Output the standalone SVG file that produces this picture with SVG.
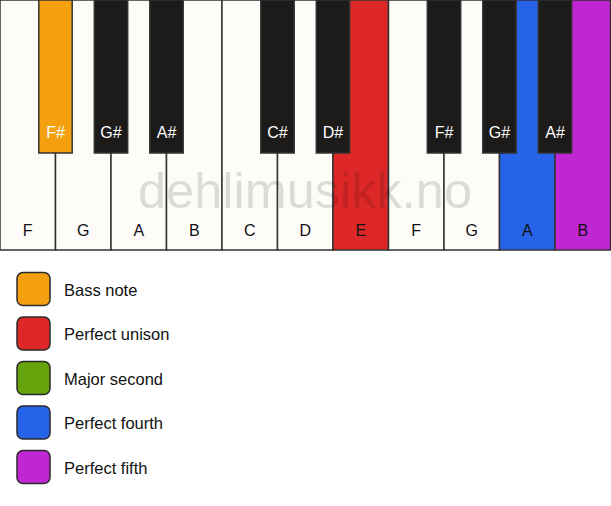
<svg xmlns="http://www.w3.org/2000/svg" width="611" height="506" viewBox="0 0 611 506">
<style>
.w{fill:#fdfcf9;stroke:#333;stroke-width:1.5}
.b{fill:#1c1b1a;stroke:#333;stroke-width:1.5}
.lw{font-family:"Liberation Sans",Arial,sans-serif;font-size:16px;fill:#111;text-anchor:middle}
.lb{font-family:"Liberation Sans",Arial,sans-serif;font-size:16px;fill:#fff;text-anchor:middle}
.lg{font-family:"Liberation Sans",Arial,sans-serif;font-size:16.5px;fill:#111}
.sw{stroke:#2a2a2a;stroke-width:1.5}
</style>
<rect width="611" height="506" fill="#fff"/>
<g id="white-keys">
<g id="key-F1"><rect class="w" x="0" y="0" width="55.5" height="250"/><text class="lw" x="27.75" y="236">F</text></g>
<g id="key-G1"><rect class="w" x="55.5" y="0" width="55.5" height="250"/><text class="lw" x="83.25" y="236">G</text></g>
<g id="key-A1"><rect class="w" x="111" y="0" width="55.5" height="250"/><text class="lw" x="138.75" y="236">A</text></g>
<g id="key-B1"><rect class="w" x="166.5" y="0" width="55.5" height="250"/><text class="lw" x="194.25" y="236">B</text></g>
<g id="key-C"><rect class="w" x="222" y="0" width="55.5" height="250"/><text class="lw" x="249.75" y="236">C</text></g>
<g id="key-D"><rect class="w" x="277.5" y="0" width="55.5" height="250"/><text class="lw" x="305.25" y="236">D</text></g>
<g id="key-E"><rect class="w" style="fill:#de2828" x="333" y="0" width="55.5" height="250"/><text class="lw" x="360.75" y="236">E</text></g>
<g id="key-F2"><rect class="w" x="388.5" y="0" width="55.5" height="250"/><text class="lw" x="416.25" y="236">F</text></g>
<g id="key-G2"><rect class="w" x="444" y="0" width="55.5" height="250"/><text class="lw" x="471.75" y="236">G</text></g>
<g id="key-A2"><rect class="w" style="fill:#2563e8" x="499.5" y="0" width="55.5" height="250"/><text class="lw" x="527.25" y="236">A</text></g>
<g id="key-B2"><rect class="w" style="fill:#c026d3" x="555" y="0" width="55.5" height="250"/><text class="lw" x="582.75" y="236">B</text></g>
</g>
<text x="305" y="208" font-family="'Liberation Sans',Arial,sans-serif" font-size="50.5" fill="#000" fill-opacity="0.13" text-anchor="middle">dehlimusikk.no</text>
<g id="black-keys">
<g id="key-Fs1"><rect class="b" style="fill:#f39f10" x="38.8" y="0" width="33.4" height="153"/><text class="lb" x="55.5" y="138">F#</text></g>
<g id="key-Gs1"><rect class="b" x="94.3" y="0" width="33.4" height="153"/><text class="lb" x="111" y="138">G#</text></g>
<g id="key-As1"><rect class="b" x="149.8" y="0" width="33.4" height="153"/><text class="lb" x="166.5" y="138">A#</text></g>
<g id="key-Cs"><rect class="b" x="260.8" y="0" width="33.4" height="153"/><text class="lb" x="277.5" y="138">C#</text></g>
<g id="key-Ds"><rect class="b" x="316.3" y="0" width="33.4" height="153"/><text class="lb" x="333" y="138">D#</text></g>
<g id="key-Fs2"><rect class="b" x="427.3" y="0" width="33.4" height="153"/><text class="lb" x="444" y="138">F#</text></g>
<g id="key-Gs2"><rect class="b" x="482.8" y="0" width="33.4" height="153"/><text class="lb" x="499.5" y="138">G#</text></g>
<g id="key-As2"><rect class="b" x="538.3" y="0" width="33.4" height="153"/><text class="lb" x="555" y="138">A#</text></g>
</g>
<g id="legend">
<g id="legend-bass"><rect class="sw" x="17" y="272.5" width="33" height="33" rx="6" fill="#f39f10"/><text class="lg" x="64" y="295.5">Bass note</text></g>
<g id="legend-unison"><rect class="sw" x="17" y="317" width="33" height="33" rx="6" fill="#de2828"/><text class="lg" x="64" y="340">Perfect unison</text></g>
<g id="legend-second"><rect class="sw" x="17" y="361.5" width="33" height="33" rx="6" fill="#65a30d"/><text class="lg" x="64" y="384.5">Major second</text></g>
<g id="legend-fourth"><rect class="sw" x="17" y="406" width="33" height="33" rx="6" fill="#2563e8"/><text class="lg" x="64" y="429">Perfect fourth</text></g>
<g id="legend-fifth"><rect class="sw" x="17" y="450.5" width="33" height="33" rx="6" fill="#c026d3"/><text class="lg" x="64" y="473.5">Perfect fifth</text></g>
</g>
</svg>
